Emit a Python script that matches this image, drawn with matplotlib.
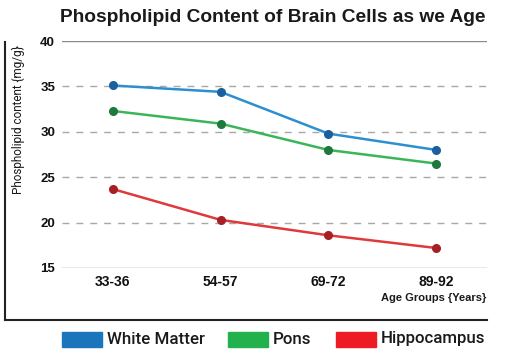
import matplotlib.pyplot as plt
from matplotlib.lines import Line2D
from matplotlib.patches import Rectangle

# ---- data ----
age_groups = ["33-36", "54-57", "69-72", "89-92"]
white_matter = [35.1, 34.4, 29.8, 28.0]
pons = [32.3, 30.9, 28.0, 26.5]
hippocampus = [23.7, 20.3, 18.6, 17.2]
y_ticks = [15, 20, 25, 30, 35, 40]

series_names = ["White Matter", "Pons", "Hippocampus"]
line_colors = ["#2d8fd0", "#3cb55a", "#e0393b"]
marker_colors = ["#1a5f9e", "#1d7a3c", "#a52025"]
legend_colors = ["#1a75bb", "#22b14c", "#ed1c24"]

plt.rcParams["font.family"] = ["Liberation Sans", "DejaVu Sans"]
NARROW = ["Roboto", "Liberation Sans", "DejaVu Sans"]

W, H = 532, 355
fig = plt.figure(figsize=(W / 100, H / 100), dpi=100)
ax = fig.add_axes([62 / W, (H - 268) / H, (487 - 62) / W, (268 - 41) / H])

x = list(range(len(age_groups)))
for vals, lc, mc in zip([white_matter, pons, hippocampus], line_colors, marker_colors):
    ax.plot(x, vals, color=lc, lw=1.8, marker="o", ms=5.5,
            mfc=mc, mec=mc, zorder=3)

# horizontal reference lines
for t in y_ticks:
    if t in (15, 40):
        ax.axhline(t, color="#8a8a8a", lw=1.0, zorder=1)
    else:
        ax.axhline(t, color="#a8a8a8", lw=1.0, ls=(0, (5, 5)), zorder=1)

ax.set_ylim(15, 40)
ax.set_xlim(-0.47, 3.47)
ax.set_yticks(y_ticks)
ax.set_xticks(x)
ax.set_xticklabels(age_groups)
ax.tick_params(axis="y", length=0, labelsize=9.5, pad=5)
ax.tick_params(axis="x", length=0, labelsize=10, pad=5)
for lab in ax.get_xticklabels() + ax.get_yticklabels():
    lab.set_fontweight("bold")
    lab.set_color("#111111")
for s in ax.spines.values():
    s.set_visible(False)

fig.text(18 / W, 1 - 120 / H, "Phospholipid content {mg/g}", rotation=90,
         ha="center", va="center", fontsize=8.5, family=NARROW,
         color="#1a1a1a")

fig.text(273 / W, 1 - 17 / H, "Phospholipid Content of Brain Cells as we Age",
         ha="center", va="center", fontsize=13.8, fontweight="bold",
         color="#1a1a1a")
fig.text(486 / W, 1 - 298 / H, "Age Groups {Years}", ha="right", va="center",
         fontsize=8, fontweight="bold", color="#1a1a1a")

# outer frame (left + bottom)
fig.add_artist(Line2D([5 / W, 5 / W], [1 - 42 / H, 1 - 320 / H],
                      transform=fig.transFigure, color="#222222", lw=1.5))
fig.add_artist(Line2D([5 / W, 487 / W], [1 - 320 / H, 1 - 320 / H],
                      transform=fig.transFigure, color="#222222", lw=1.5))

# legend below the frame
patch_x = [62, 228, 336]
for px, name, col in zip(patch_x, series_names, legend_colors):
    fig.add_artist(Rectangle((px / W, 1 - 347 / H), 40 / W, 15 / H,
                             transform=fig.transFigure, color=col))
    fig.text((px + 45) / W, 1 - 339 / H, name, ha="left", va="center",
             fontsize=12.2, fontweight="medium", family=NARROW, color="#1a1a1a")

fig.savefig("out.png", dpi=100)
